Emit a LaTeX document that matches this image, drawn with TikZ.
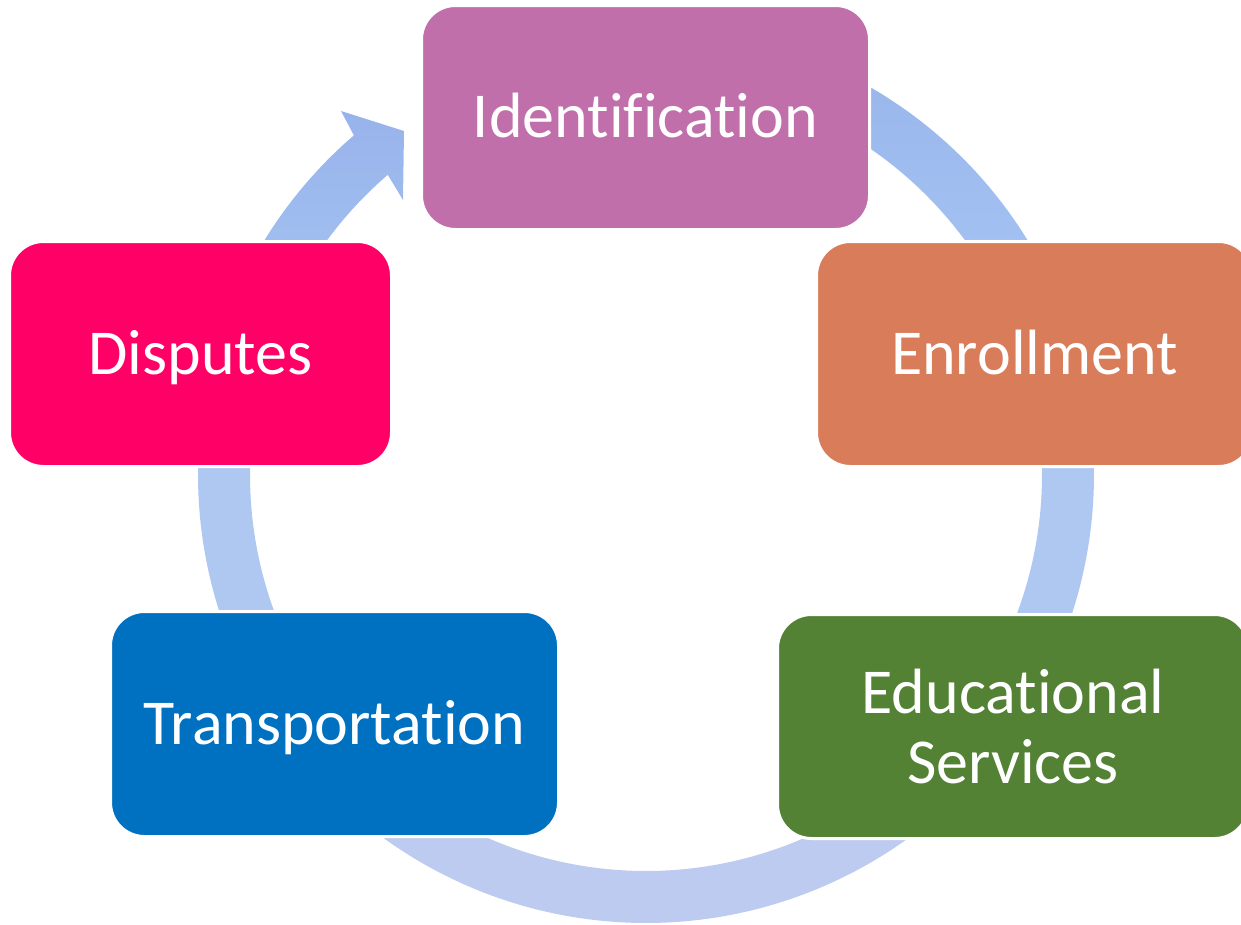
\documentclass[tikz,border=0pt]{standalone}
\usepackage{fontspec}
\setmainfont{Carlito}[Ligatures={NoCommon,NoRequired,NoContextual,NoDiscretionary}]
\definecolor{cIdent}{HTML}{C06FAB}
\definecolor{cEnrol}{HTML}{D97C59}
\definecolor{cEduc}{HTML}{548235}
\definecolor{cTrans}{HTML}{0070C0}
\definecolor{cDisp}{HTML}{FF0066}
\definecolor{bandTop}{HTML}{98B3EB}
\definecolor{bandMid}{HTML}{A7C8F4}
\definecolor{bandSide}{HTML}{AEC8F2}
\definecolor{bandBot}{HTML}{BDCBF0}
\begin{document}
\begin{tikzpicture}[x=1pt,y=1pt,
  stagebox/.style={rounded corners=34pt, draw=white, line width=3pt,
    text=white, font=\fontsize{64}{70}\selectfont, align=center,
    inner sep=0pt},
  oneline/.style={text height=51pt, text depth=11pt},
  bandseg/.style={draw=none}]
\useasboundingbox (0,0) rectangle (1241,-924);
\clip (0,0) rectangle (1241,-924);
\coordinate (C) at (646,-475);
% band segments
\shade[bandseg, top color=bandTop, bottom color=bandMid]
  ([shift={(C)}]90:448) arc[start angle=90, end angle=17.5, radius=448]
  -- ([shift={(C)}]17.5:396) arc[start angle=17.5, end angle=90, radius=396] -- cycle;
\fill[bandseg, bandSide]
  ([shift={(C)}]17.5:448) arc[start angle=17.5, end angle=-34.6, radius=448]
  -- ([shift={(C)}]-34.6:396) arc[start angle=-34.6, end angle=17.5, radius=396] -- cycle;
\fill[bandseg, bandBot]
  ([shift={(C)}]-34.6:448) arc[start angle=-34.6, end angle=-141.3, radius=448]
  -- ([shift={(C)}]-141.3:396) arc[start angle=-141.3, end angle=-34.6, radius=396] -- cycle;
\fill[bandseg, bandSide]
  ([shift={(C)}]218.7:448) arc[start angle=218.7, end angle=164.8, radius=448]
  -- ([shift={(C)}]164.8:396) arc[start angle=164.8, end angle=218.7, radius=396] -- cycle;
\coordinate (wingOut) at (341,-111);
\coordinate (tip) at (404,-131);
\coordinate (wingIn) at (403,-200);
\shade[bandseg, top color=bandTop, bottom color=bandMid]
  ([shift={(C)}]164.8:448) arc[start angle=164.8, end angle=130.7, radius=448]
  -- (wingOut) -- (tip) -- (wingIn)
  -- ([shift={(C)}]130.7:396) arc[start angle=130.7, end angle=164.8, radius=396] -- cycle;
% boxes
\node[stagebox, oneline, fill=cIdent, minimum width=448pt, minimum height=224pt] (ident) at (645.5,-117.5) {Identification};
\node[stagebox, oneline, fill=cEnrol, minimum width=436pt, minimum height=225pt] (enrol) at (1034.5,-354) {Enrollment};
\node[stagebox, fill=cEduc, minimum width=471pt, minimum height=224pt] (educ) at (1013,-726.5) {Educational\\Services};
\node[stagebox, oneline, fill=cTrans, minimum width=448pt, minimum height=225pt] (trans) at (334.5,-724) {Transportation};
\node[stagebox, oneline, fill=cDisp, minimum width=382pt, minimum height=225pt] (disp) at (200.5,-354) {Disputes};
\end{tikzpicture}
\end{document}
